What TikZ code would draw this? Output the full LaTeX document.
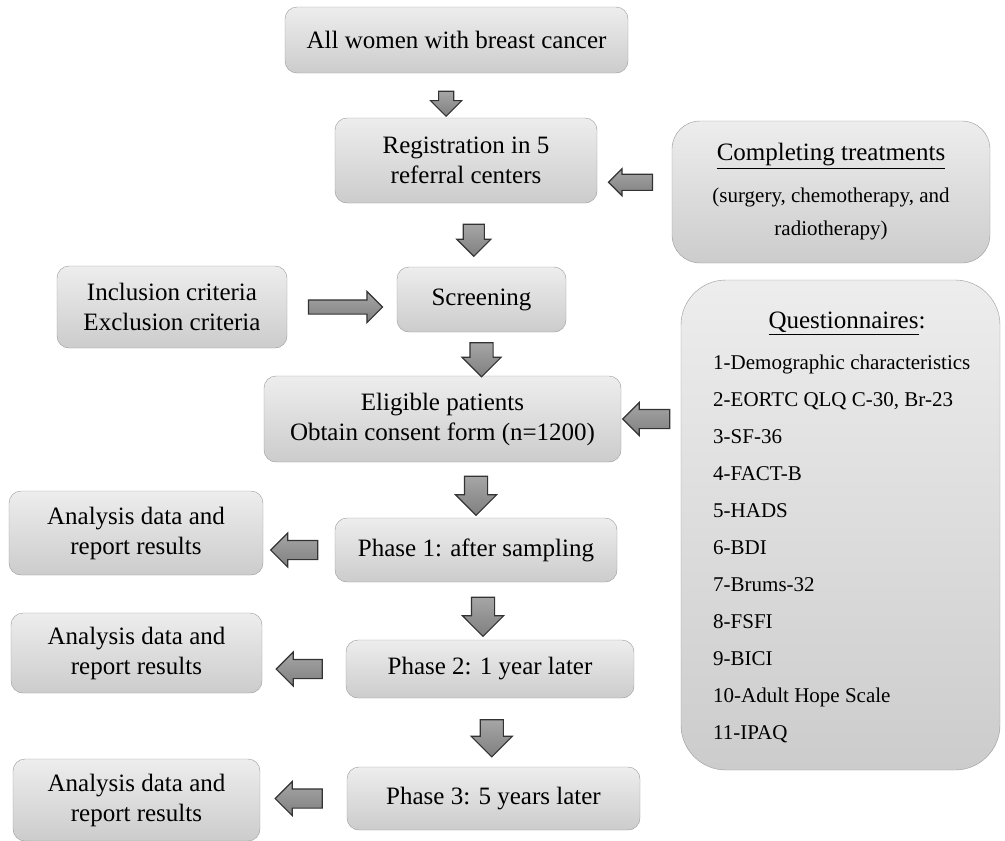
\documentclass[tikz,border=0pt]{standalone}
\usepackage{fontspec}
\setmainfont{Liberation Serif}
\usetikzlibrary{shapes.arrows}

\begin{document}
\begin{tikzpicture}[x=1pt,y=-1pt]
    \tikzset{block/.style= {draw=gray!80, rectangle
    , rounded corners=12pt
    , top color=gray!14, bottom color=gray!40
    , align=center, inner sep=0pt
    , font=\fontsize{25}{30}\selectfont
      },
    fat/.style= {single arrow, draw=black!80, line width=1.1pt
    , top color=gray!70, bottom color=gray!100
    , inner xsep=0pt, outer sep=0pt
    , inner ysep=11pt, single arrow head extend=9pt
      },
    darrow/.style={fat, rotate=-90, minimum height=39pt},
    larrow/.style={fat, rotate=180, minimum height=47pt
    , inner ysep=9pt, single arrow head extend=7.5pt},
    rarrow/.style={fat, minimum height=74pt
    , inner ysep=6.5pt, single arrow head extend=8.5pt}
    }
\useasboundingbox (0,0) rectangle (1005,841);

\node [block, minimum width=343pt, minimum height=66pt] (init) at (456.5,40) {All women with breast cancer};
\node [block, minimum width=262pt, minimum height=85pt] (reg) at (466,160.5) {Registration in 5\\referral centers};
\node [block, rounded corners=28pt, minimum width=318pt, minimum height=142pt
      , font=\fontsize{21}{33}\selectfont] (treat) at (831,192)
      {{\fontsize{25}{30}\selectfont\underline{Completing treatments}}\\[9pt](surgery, chemotherapy, and\\radiotherapy)};
\node [block, minimum width=230pt, minimum height=82pt] (crit) at (172,307) {Inclusion criteria\\Exclusion criteria};
\node [block, minimum width=169pt, minimum height=65pt] (scr) at (481.5,299.5) {Screening};
\node [block, minimum width=357pt, minimum height=86pt] (elig) at (442.5,419) {Eligible patients\\Obtain consent form (n=1200)};
\node [block, rounded corners=45pt, minimum width=319pt, minimum height=490pt] (quest) at (840.5,525) {};
\node [font=\fontsize{25}{30}\selectfont] (qtitle) at (847,323) {\underline{Questionnaires}:};
\node [anchor=north west, align=left, inner sep=0pt
      , font=\fontsize{21}{37}\selectfont] (qlist) at (713,355)
      {1-Demographic characteristics\\2-EORTC QLQ C-30, Br-23\\3-SF-36\\4-FACT-B\\5-HADS\\6-BDI\\7-Brums-32\\8-FSFI\\9-BICI\\10-Adult Hope Scale\\11-IPAQ};
\node [block, minimum width=282pt, minimum height=64pt] (ph1) at (476,550) {Phase 1: after sampling};
\node [block, minimum width=254pt, minimum height=84pt] (an1) at (136,533) {Analysis data and\\report results};
\node [block, minimum width=288pt, minimum height=58pt] (ph2) at (490,669) {Phase 2: 1 year later};
\node [block, minimum width=251pt, minimum height=80pt] (an2) at (136.5,653) {Analysis data and\\report results};
\node [block, minimum width=293pt, minimum height=63pt] (ph3) at (493.5,798.5) {Phase 3: 5 years later};
\node [block, minimum width=247pt, minimum height=82pt] (an3) at (136.5,800) {Analysis data and\\report results};

 \path ([xshift=-16pt]init.south) -- node[pos=.6, darrow, minimum height=25pt, inner ysep=7pt, single arrow head extend=8pt] {} ([xshift=-16pt]reg.north);
 \path (reg.south) -- node[darrow, minimum height=32pt, inner ysep=10pt, single arrow head extend=6.5pt] {} (scr.north);
 \path (scr.south) -- node[darrow, minimum height=34pt, inner ysep=11pt, single arrow head extend=8pt] {} (scr.south |- elig.north);
 \path (ph1.north |- elig.south) -- node[darrow] {} (ph1.north);
 \path (ph1.south) -- node[darrow] {} (ph2.north);
 \path (ph2.south) -- node[darrow, minimum height=37pt] {} (ph3.north);

 \path ([yshift=-6pt]treat.west) -- node[larrow, minimum height=44pt, inner ysep=7.5pt, single arrow head extend=5.5pt] {} ([yshift=-6pt]reg.east);
 \path (quest.west |- elig.east) -- node[larrow, inner ysep=9pt, single arrow head extend=7pt] {} (elig.east);
 \path (ph1.west) -- node[larrow] {} (ph1.west -| an1.east);
 \path (ph2.west) -- node[larrow, minimum height=46pt] {} (ph2.west -| an2.east);
 \path (ph3.west) -- node[larrow] {} (ph3.west -| an3.east);
 \path (crit.east) -- node[rarrow] {} (crit.east -| scr.west);
\end{tikzpicture}
\end{document}
